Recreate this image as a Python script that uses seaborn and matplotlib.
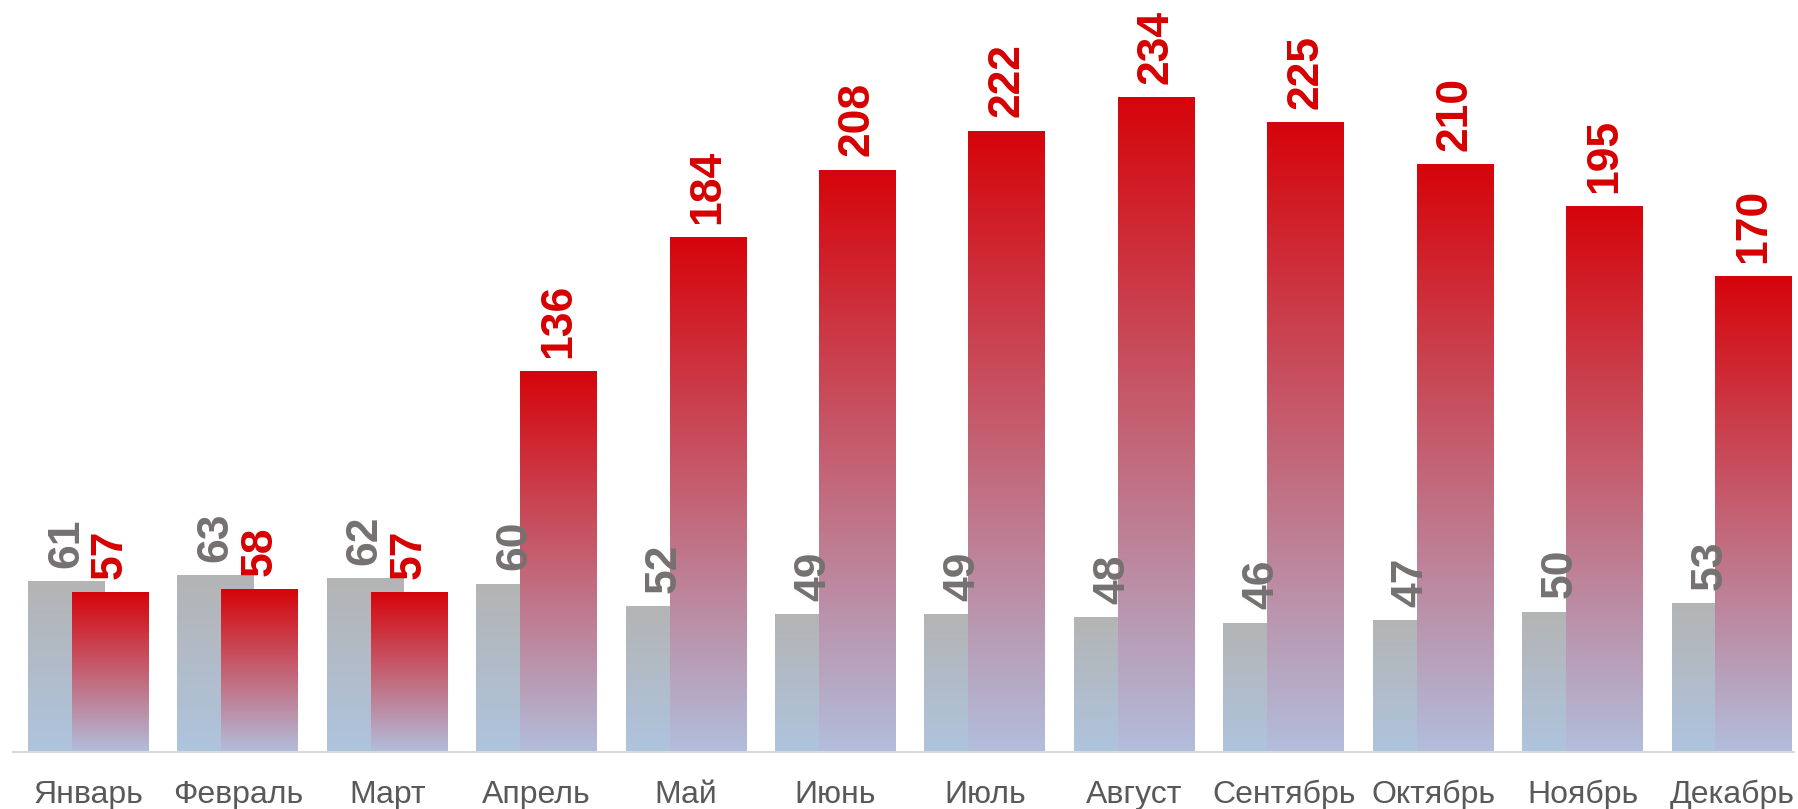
import matplotlib
matplotlib.use('Agg')
import matplotlib.pyplot as plt
from matplotlib.colors import LinearSegmentedColormap
import seaborn as sns
import numpy as np
import pandas as pd

months = ['Январь', 'Февраль', 'Март', 'Апрель', 'Май', 'Июнь',
          'Июль', 'Август', 'Сентябрь', 'Октябрь', 'Ноябрь', 'Декабрь']
grey_values = [61, 63, 62, 60, 52, 49, 49, 48, 46, 47, 50, 53]
red_values = [57, 58, 57, 136, 184, 208, 222, 234, 225, 210, 195, 170]

df = pd.DataFrame({'month': months, 'grey': grey_values, 'red': red_values})

sns.set_style('white')
plt.rcParams['font.family'] = ['Liberation Sans', 'DejaVu Sans']

fig = plt.figure(figsize=(17.99, 8.09), dpi=100)
ax = fig.add_axes([13 / 1799, 1 - 752 / 809, 1781 / 1799, 752 / 809])

bar_w = 0.515
shift = 0.147

# grey bars behind, red bars in front
sns.barplot(data=df, x='month', y='grey', color='#b4b4b4', width=bar_w, ax=ax, zorder=1)
n_grey = len(ax.patches)
sns.barplot(data=df, x='month', y='red', color='#d50509', width=bar_w, ax=ax, zorder=2)

grey_cmap = LinearSegmentedColormap.from_list('g', ['#aec4de', '#b4b4b4'])
red_cmap = LinearSegmentedColormap.from_list('r', ['#b2bedc', '#d6040a'])
grad = np.linspace(0, 1, 256).reshape(-1, 1)

for i, p in enumerate(ax.patches):
    is_grey = i < n_grey
    p.set_x(p.get_x() + (-shift if is_grey else shift))
    p.set_alpha(0)
    x0, w, h = p.get_x(), p.get_width(), p.get_height()
    ax.imshow(grad, extent=[x0, x0 + w, 0, h], origin='lower', aspect='auto',
              cmap=grey_cmap if is_grey else red_cmap,
              zorder=1 if is_grey else 2, interpolation='bicubic')
    ax.annotate(f'{int(h)}', (x0 + w / 2, h), xytext=(0, 10), textcoords='offset points',
                rotation=90, ha='center', va='bottom', fontsize=32, fontweight='bold',
                color='#767171' if is_grey else '#d60000', zorder=5)

ax.set_xlim(-0.505, 11.415)
ax.set_ylim(0, 268.9)
ax.set_xlabel('')
ax.set_ylabel('')
ax.set_yticks([])
ax.tick_params(axis='x', length=0, pad=20, labelsize=23, labelcolor='#595959')
for s in ['top', 'right', 'left']:
    ax.spines[s].set_visible(False)
ax.spines['bottom'].set_color('#d9d9d9')
ax.spines['bottom'].set_linewidth(1.5)
ax.spines['bottom'].set_zorder(6)

fig.savefig('out.png', dpi=100)
